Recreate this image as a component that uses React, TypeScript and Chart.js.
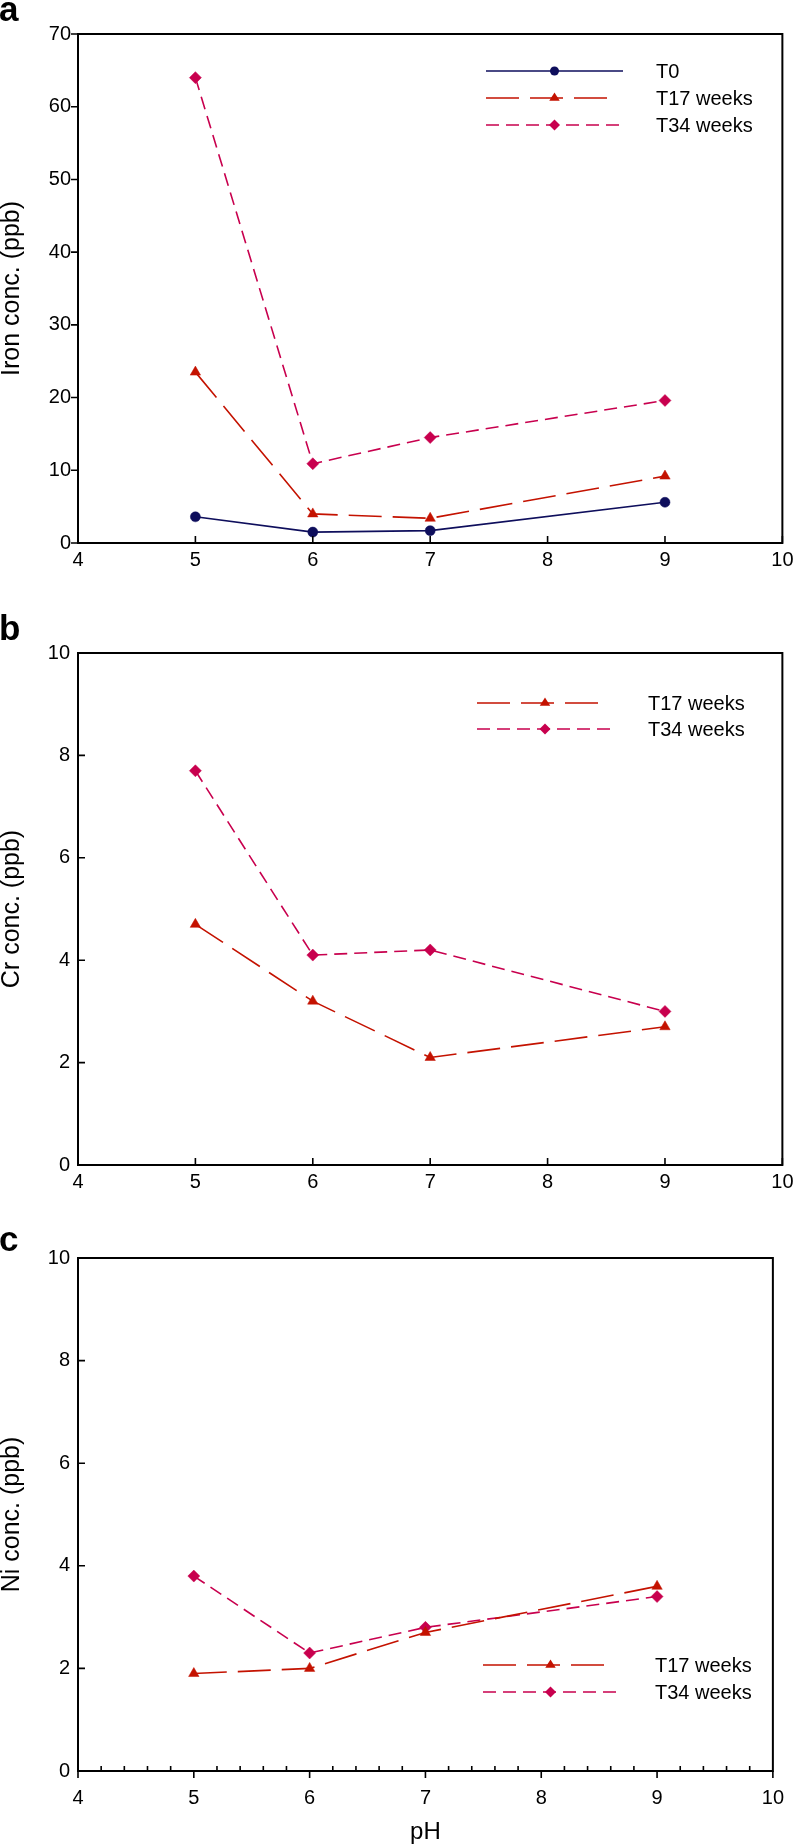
import React, { useEffect, useRef } from 'react';
import { Chart, registerables } from 'chart.js';

Chart.register(...registerables);

// ---------- data ----------
const PH = [5, 6, 7, 9];

const IRON_T0 = [3.6, 1.5, 1.7, 5.6];
const IRON_T17 = [23.5, 4.0, 3.4, 9.2];
const IRON_T34 = [64.0, 10.9, 14.5, 19.6];

const CR_T17 = [4.7, 3.2, 2.1, 2.7];
const CR_T34 = [7.7, 4.1, 4.2, 3.0];

const NI_T17 = [1.9, 2.0, 2.7, 3.6];
const NI_T34 = [3.8, 2.3, 2.8, 3.4];

const X_TICKS = [4, 5, 6, 7, 8, 9, 10];
const IRON_Y_TICKS = [0, 10, 20, 30, 40, 50, 60, 70];
const CRNI_Y_TICKS = [0, 2, 4, 6, 8, 10];

const LABEL_T0 = 'T0';
const LABEL_T17 = 'T17 weeks';
const LABEL_T34 = 'T34 weeks';

const Y_TITLE_A = 'Iron conc. (ppb)';
const Y_TITLE_B = 'Cr conc. (ppb)';
const Y_TITLE_C = 'Ni conc. (ppb)';
const X_TITLE = 'pH';

// ---------- styles ----------
const FONT = '"Liberation Sans", Arial, Helvetica, sans-serif';
Chart.defaults.font.family = FONT;
Chart.defaults.color = '#000';

const STYLE_T0 = { color: '#0e0e5c', dash: [] as number[], point: 'circle', radius: 5 };
const STYLE_T17 = { color: '#c41200', dash: [33, 11], point: 'triangle', radius: 6 };
const STYLE_T34 = { color: '#c8004e', dash: [13, 7], point: 'rectRot', radius: 6 };

function drawMarker(ctx: CanvasRenderingContext2D, style: string, x: number, y: number, r: number) {
  ctx.beginPath();
  if (style === 'circle') {
    ctx.arc(x, y, r, 0, Math.PI * 2);
  } else if (style === 'triangle') {
    const h = r * 1.5;
    ctx.moveTo(x, y - r);
    ctx.lineTo(x + r * 0.95, y + h - r);
    ctx.lineTo(x - r * 0.95, y + h - r);
    ctx.closePath();
  } else {
    ctx.moveTo(x, y - r);
    ctx.lineTo(x + r, y);
    ctx.lineTo(x, y + r);
    ctx.lineTo(x - r, y);
    ctx.closePath();
  }
  ctx.fill();
}

const frameTicksPlugin = {
  id: 'frameTicks',
  afterDatasetsDraw(chart: any, _args: any, opts: any) {
    const { ctx, chartArea } = chart;
    const { left, right, top, bottom } = chartArea;
    const xs = chart.scales.x;
    const ys = chart.scales.y;
    ctx.save();
    ctx.strokeStyle = '#000';
    ctx.lineWidth = 1.6;
    ctx.setLineDash([]);
    ctx.beginPath();
    for (const v of opts.yTicks) {
      const py = ys.getPixelForValue(v);
      if (opts.yDir === 'out') {
        ctx.moveTo(left - opts.yLen, py);
        ctx.lineTo(left, py);
      } else {
        ctx.moveTo(left, py);
        ctx.lineTo(left + opts.yLen, py);
      }
    }
    for (const v of opts.xTicks) {
      const px = xs.getPixelForValue(v);
      if (opts.xDir === 'out') {
        ctx.moveTo(px, bottom);
        ctx.lineTo(px, bottom + opts.xLen);
      } else {
        ctx.moveTo(px, bottom);
        ctx.lineTo(px, bottom - opts.xLen);
      }
    }
    if (opts.minorStep) {
      const n = Math.round((xs.max - xs.min) / opts.minorStep);
      for (let i = 1; i < n; i++) {
        const v = xs.min + i * opts.minorStep;
        if (Math.abs(v - Math.round(v)) < 1e-6) continue;
        const px = xs.getPixelForValue(v);
        ctx.moveTo(px, bottom);
        ctx.lineTo(px, bottom - opts.minorLen);
      }
    }
    ctx.stroke();
    ctx.lineWidth = 2;
    ctx.strokeRect(left, top, right - left, bottom - top);
    ctx.restore();
  },
};

const insideLegendPlugin = {
  id: 'insideLegend',
  afterDatasetsDraw(chart: any, _args: any, opts: any) {
    const { ctx } = chart;
    ctx.save();
    chart.data.datasets.forEach((ds: any, i: number) => {
      const y = opts.y0 + i * opts.rowH;
      const dash: number[] = ds.borderDash || [];
      let x2 = opts.x2;
      if (dash.length === 2) {
        const period = dash[0] + dash[1];
        const len = opts.x2 - opts.x1;
        x2 = opts.x1 + Math.floor((len + dash[1]) / period) * period - dash[1];
      }
      ctx.strokeStyle = ds.borderColor;
      ctx.fillStyle = ds.borderColor;
      ctx.lineWidth = ds.borderWidth;
      ctx.setLineDash(dash);
      ctx.beginPath();
      ctx.moveTo(opts.x1, y);
      ctx.lineTo(x2, y);
      ctx.stroke();
      ctx.setLineDash([]);
      drawMarker(ctx, ds.pointStyle, (opts.x1 + opts.x2) / 2, y, ds.pointRadius - 0.5);
      ctx.fillStyle = '#000';
      ctx.font = `20px ${FONT}`;
      ctx.textAlign = 'left';
      ctx.textBaseline = 'middle';
      ctx.fillText(ds.label, opts.textX, y + 1);
    });
    ctx.restore();
  },
};

function makeDataset(label: string, values: number[], st: any) {
  return {
    label,
    data: PH.map((x, i) => ({ x, y: values[i] })),
    borderColor: st.color,
    backgroundColor: st.color,
    borderWidth: 1.6,
    borderDash: st.dash,
    pointStyle: st.point,
    pointRadius: st.radius,
    pointBackgroundColor: st.color,
    pointBorderColor: st.color,
    pointBorderWidth: 0.5,
    tension: 0,
    fill: false,
  };
}

type PanelProps = {
  height: number;
  series: any[];
  yMax: number;
  yTicks: number[];
  yTitle: string;
  xTitle?: string;
  padTop: number;
  padRight: number;
  xHeight: number;
  xPad: number;
  yPad: number;
  tickOpts: any;
  legendOpts: any;
};

function Panel(p: PanelProps) {
  const ref = useRef<HTMLCanvasElement | null>(null);
  useEffect(() => {
    if (!ref.current) return;
    const chart = new Chart(ref.current, {
      type: 'line',
      data: { datasets: p.series },
      options: {
        animation: false,
        responsive: false,
        maintainAspectRatio: false,
        layout: { padding: { top: p.padTop, right: p.padRight, left: 0, bottom: 0 } },
        plugins: {
          legend: { display: false },
          tooltip: { enabled: false },
          frameTicks: { ...p.tickOpts, yTicks: p.yTicks, xTicks: X_TICKS },
          insideLegend: p.legendOpts,
        } as any,
        scales: {
          x: {
            type: 'linear',
            min: 4,
            max: 10,
            grid: { display: false, drawTicks: false },
            border: { display: false },
            ticks: { padding: p.xPad, font: { size: 20 }, color: '#000', autoSkip: false, maxRotation: 0 },
            afterBuildTicks: (s: any) => {
              s.ticks = X_TICKS.map((v) => ({ value: v }));
            },
            afterFit: (s: any) => {
              s.height = p.xHeight;
            },
            title: p.xTitle
              ? { display: true, text: p.xTitle, font: { size: 24, lineHeight: 1 }, color: '#000', padding: { top: 0, bottom: 0 } }
              : { display: false },
          },
          y: {
            type: 'linear',
            min: 0,
            max: p.yMax,
            grid: { display: false, drawTicks: false },
            border: { display: false },
            ticks: { padding: p.yPad, font: { size: 20 }, color: '#000', autoSkip: false },
            afterBuildTicks: (s: any) => {
              s.ticks = p.yTicks.map((v) => ({ value: v }));
            },
            afterFit: (s: any) => {
              s.width = 78;
            },
            title: { display: true, text: p.yTitle, font: { size: 25, lineHeight: 1 }, color: '#000', padding: { top: 0, bottom: 0 } },
          },
        },
      } as any,
      plugins: [frameTicksPlugin, insideLegendPlugin] as any,
    });
    return () => chart.destroy();
  }, []);
  return <canvas ref={ref} width={799} height={p.height} style={{ display: 'block', width: 799, height: p.height }} />;
}

const letterStyle: React.CSSProperties = {
  position: 'absolute',
  left: -1,
  fontFamily: FONT,
  fontWeight: 'bold',
  fontSize: 35,
  lineHeight: '35px',
  margin: 0,
};

export default function App() {
  return (
    <div style={{ position: 'absolute', left: 0, top: 0, width: 799, height: 1844, background: '#fff', overflow: 'hidden' }}>
      <div style={{ position: 'absolute', left: 0, top: 0 }}>
        <Panel
          height={600}
          series={[
            makeDataset(LABEL_T0, IRON_T0, STYLE_T0),
            makeDataset(LABEL_T17, IRON_T17, STYLE_T17),
            makeDataset(LABEL_T34, IRON_T34, STYLE_T34),
          ]}
          yMax={70}
          yTicks={IRON_Y_TICKS}
          yTitle={Y_TITLE_A}
          padTop={34}
          padRight={16}
          xHeight={57}
          xPad={5.5}
          yPad={7}
          tickOpts={{ yDir: 'out', yLen: 7, xDir: 'in', xLen: 7 }}
          legendOpts={{ x1: 486, x2: 623, textX: 656, y0: 71, rowH: 27 }}
        />
      </div>
      <div style={{ position: 'absolute', left: 0, top: 600 }}>
        <Panel
          height={600}
          series={[makeDataset(LABEL_T17, CR_T17, STYLE_T17), makeDataset(LABEL_T34, CR_T34, STYLE_T34)]}
          yMax={10}
          yTicks={CRNI_Y_TICKS}
          yTitle={Y_TITLE_B}
          padTop={53}
          padRight={11}
          xHeight={35}
          xPad={5.5}
          yPad={8}
          tickOpts={{ yDir: 'in', yLen: 7, xDir: 'in', xLen: 7 }}
          legendOpts={{ x1: 477, x2: 613, textX: 648, y0: 103, rowH: 26 }}
        />
      </div>
      <div style={{ position: 'absolute', left: 0, top: 1200 }}>
        <Panel
          height={644}
          series={[makeDataset(LABEL_T17, NI_T17, STYLE_T17), makeDataset(LABEL_T34, NI_T34, STYLE_T34)]}
          yMax={10}
          yTicks={CRNI_Y_TICKS}
          yTitle={Y_TITLE_C}
          xTitle={X_TITLE}
          padTop={58}
          padRight={11}
          xHeight={73}
          xPad={15}
          yPad={8}
          tickOpts={{ yDir: 'in', yLen: 7, xDir: 'out', xLen: 7, minorStep: 0.2, minorLen: 5 }}
          legendOpts={{ x1: 483, x2: 618, textX: 655, y0: 465, rowH: 27 }}
        />
      </div>
      <div style={{ ...letterStyle, top: -9 }}>a</div>
      <div style={{ ...letterStyle, top: 610 }}>b</div>
      <div style={{ ...letterStyle, top: 1221 }}>c</div>
    </div>
  );
}
